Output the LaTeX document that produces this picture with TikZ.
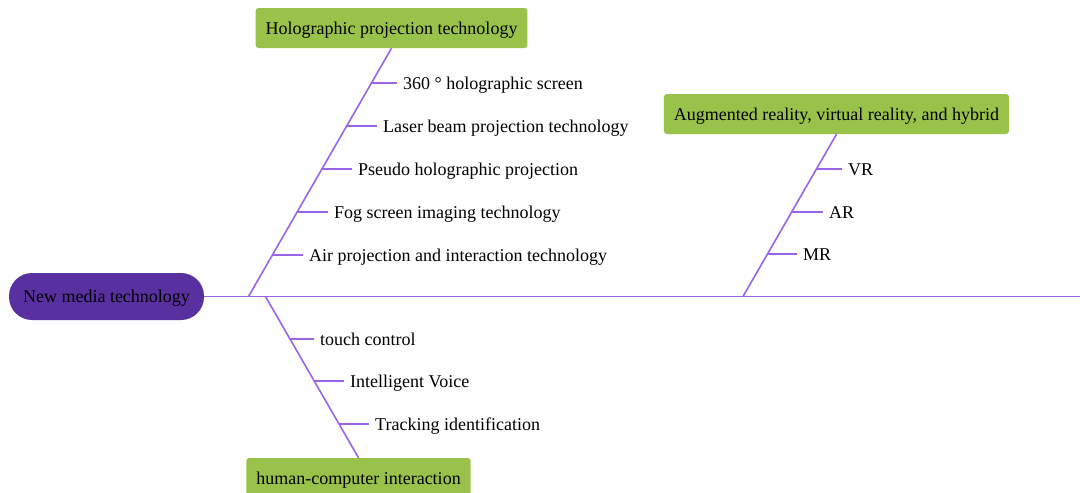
\documentclass[tikz,border=0pt]{standalone}
\usepackage{fontspec}
\setmainfont{Liberation Serif}
\usepackage{xcolor}

\definecolor{rootpurple}{RGB}{88,48,160}
\definecolor{topicgreen}{RGB}{153,194,74}
\definecolor{bonepurple}{RGB}{155,100,232}

\begin{document}
\begin{tikzpicture}[x=1pt,y=-1pt,font=\fontsize{18}{20}\selectfont,
    every node/.style={text height=16pt,text depth=4pt},
    root/.style={fill=rootpurple,rounded corners=23pt,minimum width=195pt,minimum height=47pt,inner sep=0pt},
    topic/.style={fill=topicgreen,rounded corners=3pt,minimum height=40pt,inner xsep=10pt,inner ysep=0pt},
    item/.style={anchor=west,inner xsep=6pt,inner ysep=0pt},
    bone/.style={draw=bonepurple,line width=1.6pt}]
    \clip (0,0) rectangle (1080,493);
    % Head and spine
    \node[root] (root) at (106.5,296.5) {New media technology};
    \coordinate (tail) at (1080,296.5);
    \draw[bone] (root.east) -- (tail);
    % Topic boxes
    \node[topic] (holo) at (391.5,28)  {Holographic projection technology};
    \node[topic] (arvr) at (836.5,114) {Augmented reality, virtual reality, and hybrid};
    \node[topic] (hci)  at (358.5,478) {human-computer interaction};
    % Bones from the spine
    \coordinate (f1) at (248.5,296.5);
    \coordinate (f2) at (743,296.5);
    \coordinate (f3) at (265.5,296.5);
    \draw[bone] (f1) -- (holo.south);
    \draw[bone] (f2) -- (arvr.south);
    \draw[bone] (f3) -- (hci.north);
    % Holographic projection items
    \coordinate (h1) at (371.4,83);
    \coordinate (h2) at (346.7,126);
    \coordinate (h3) at (321.9,169);
    \coordinate (h4) at (297.2,212);
    \coordinate (h5) at (272.4,255);
    \node[item] (h1t) at (397,83)  {360 ° holographic screen};
    \node[item] (h2t) at (377,126) {Laser beam projection technology};
    \node[item] (h3t) at (352,169) {Pseudo holographic projection};
    \node[item] (h4t) at (328,212) {Fog screen imaging technology};
    \node[item] (h5t) at (303,255) {Air projection and interaction technology};
    \draw[bone] (h1) -- (h1t.west);
    \draw[bone] (h2) -- (h2t.west);
    \draw[bone] (h3) -- (h3t.west);
    \draw[bone] (h4) -- (h4t.west);
    \draw[bone] (h5) -- (h5t.west);
    % AR / VR / MR items
    \coordinate (a1) at (816.4,169);
    \coordinate (a2) at (791.6,212);
    \coordinate (a3) at (767.5,254);
    \node[item] (a1t) at (842,169) {VR};
    \node[item] (a2t) at (823,212) {AR};
    \node[item] (a3t) at (797,254) {MR};
    \draw[bone] (a1) -- (a1t.west);
    \draw[bone] (a2) -- (a2t.west);
    \draw[bone] (a3) -- (a3t.west);
    % Interaction items
    \coordinate (c1) at (290,339);
    \coordinate (c2) at (314.2,381);
    \coordinate (c3) at (339,424);
    \node[item] (c1t) at (314,339) {touch control};
    \node[item] (c2t) at (344,381) {Intelligent Voice};
    \node[item] (c3t) at (369,424) {Tracking identification};
    \draw[bone] (c1) -- (c1t.west);
    \draw[bone] (c2) -- (c2t.west);
    \draw[bone] (c3) -- (c3t.west);
\end{tikzpicture}
\end{document}
